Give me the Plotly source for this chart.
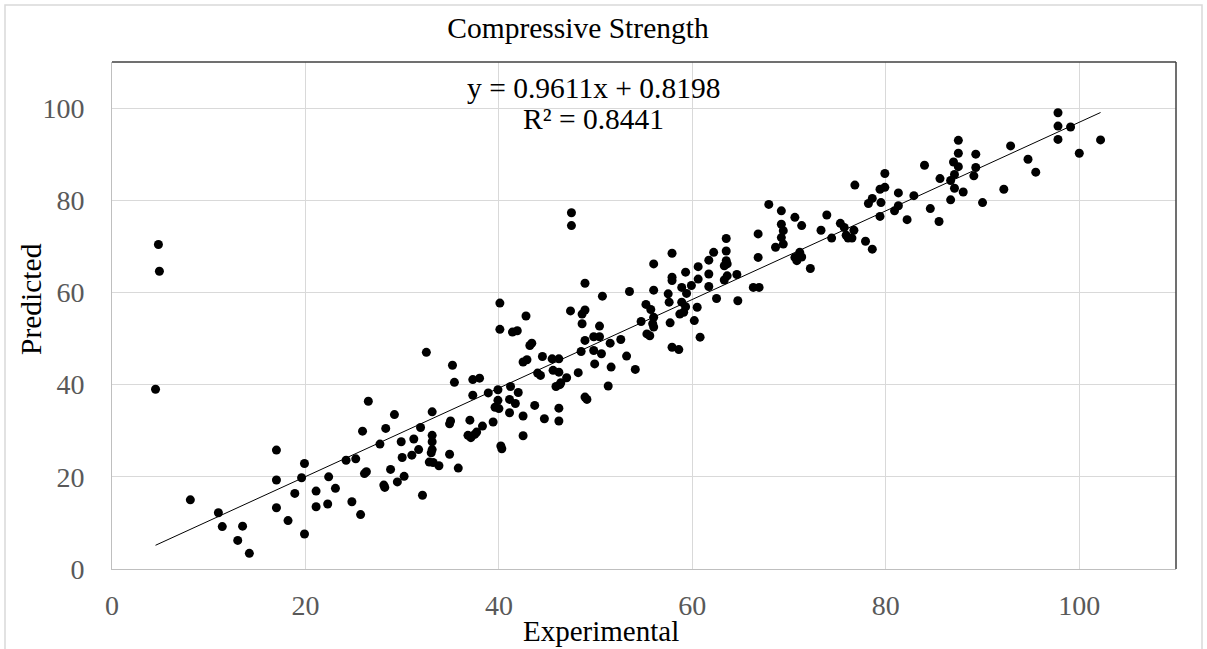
import plotly.graph_objects as go

experimental = [
    4.8, 4.9, 4.5, 8.1, 11.0, 11.4, 13.5, 13.0, 14.2, 17.0, 17.0, 17.0, 18.2, 19.9, 19.6, 18.9, 19.9, 21.1, 21.1, 22.4,
    23.1, 22.3, 24.2, 24.8,
    25.2, 25.7, 25.9, 26.5, 26.1, 26.3, 28.1, 28.2, 27.7, 28.3, 28.8, 29.2, 29.5, 30.2, 29.9, 30.0, 31.0, 31.2, 31.7,
    31.9, 32.1, 32.5, 33.1, 33.1, 33.1, 33.1, 33.0, 32.8, 33.2, 33.8, 34.9, 35.0, 34.9, 35.8, 35.2, 35.4, 37.0, 37.3,
    37.3, 38.0, 36.8, 37.1, 37.5, 37.7, 38.3, 38.9, 39.4, 39.9, 40.1, 40.1, 39.9, 39.6, 40.0, 40.2, 40.3, 41.2, 41.1,
    41.7, 42.0, 41.1, 42.5, 42.5, 41.4, 41.9, 42.8, 43.2, 43.4, 42.5, 42.9, 44.5, 44.0, 44.3, 43.7, 44.7,
    45.5, 46.2, 45.6, 46.2, 45.9, 46.3, 46.4, 47.0, 46.2, 46.2, 48.2, 47.5, 47.5, 47.4, 48.6, 48.9, 48.6, 48.9, 48.9,
    48.5, 49.8, 50.4, 50.4, 49.8, 50.6, 49.9, 48.9, 49.1, 50.7, 51.5, 51.6, 51.3, 52.6, 53.2, 53.5, 54.1, 54.7, 55.2,
    55.7, 56.0, 55.9, 56.0, 55.3, 55.6, 56.0, 56.0, 57.5, 57.6, 57.7, 57.9, 58.6, 57.9, 57.9, 57.9, 58.9, 59.4, 59.3,
    58.9, 59.3, 58.7, 59.1, 59.9, 60.6, 60.6, 60.5, 60.2, 60.8, 61.7, 62.2, 61.7, 61.7, 62.5, 63.5, 63.5, 63.5, 63.3,
    63.6, 63.3, 63.6,
    64.6, 64.7, 66.3, 66.9, 66.8, 66.8, 67.9, 69.2, 69.2, 69.4, 69.2, 69.4, 68.6, 70.6, 71.3, 70.6, 71.1, 70.8, 71.3,
    72.2, 73.3, 73.9, 74.4, 75.3, 75.7, 75.9, 76.1, 76.5, 76.7, 76.8, 77.9, 78.6, 78.2, 78.6, 79.5, 79.4, 79.9, 79.9,
    79.4, 80.9, 81.3, 81.3, 82.2, 82.9, 84.0, 84.6, 85.5, 85.6,
    86.7, 87.1, 87.0, 87.5, 87.5, 87.5, 87.1, 88.0, 86.7, 89.3, 89.3, 89.1, 90.0, 92.2, 92.9, 94.7, 95.5, 97.8, 97.8,
    97.8, 99.1, 100.0, 102.2,
]

predicted = [
    70.4, 64.6, 39.0, 15.0, 12.2, 9.2, 9.3, 6.2, 3.4, 25.8, 19.3, 13.3, 10.5, 22.9, 19.8, 16.4, 7.6, 16.9, 13.5, 20.0,
    17.5, 14.1, 23.6, 14.6,
    23.9, 11.8, 29.9, 36.4, 20.7, 21.1, 18.2, 17.7, 27.1, 30.5, 21.6, 33.5, 18.9, 20.1, 27.6, 24.2, 24.7, 28.2, 25.9,
    30.7, 16.0, 47.0, 34.1, 29.0, 27.6, 25.9, 25.2, 23.2, 23.1, 22.4, 31.5, 32.1, 24.9, 21.9, 44.2, 40.5, 32.3, 37.7,
    41.1, 41.4, 29.0, 28.5, 29.2, 29.7, 31.0, 38.2, 31.9, 38.9, 57.7, 52.0, 36.6, 35.1, 34.8, 26.7, 26.1, 39.6, 36.8,
    35.9, 38.3, 33.9, 33.2, 28.9, 51.4, 51.7, 54.9, 48.5, 49.0, 44.9, 45.4, 46.1, 42.5, 42.0, 35.5, 32.6,
    45.6, 45.6, 43.1, 42.7, 39.6, 40.0, 40.4, 41.5, 34.9, 32.1, 42.6, 77.3, 74.5, 56.0, 55.3, 56.2, 53.2, 62.0, 49.6,
    47.2, 50.4, 50.4, 52.7, 47.4, 46.7, 44.5, 37.3, 36.8, 59.2, 49.0, 43.8, 39.7, 49.8, 46.2, 60.2, 43.3, 53.7, 57.4,
    56.3, 54.6, 53.2, 52.5, 51.0, 50.6, 66.2, 60.5, 59.7, 57.9, 53.4, 48.1, 47.6, 68.5, 63.3, 62.6, 61.1, 59.8, 64.4,
    57.9, 56.9, 55.3, 55.7, 61.5, 65.6, 62.9, 56.8, 53.9, 50.3, 67.0, 68.7, 64.0, 61.3, 58.7, 71.7, 69.0, 66.9, 65.8,
    66.2, 62.7, 63.6,
    63.9, 58.2, 61.1, 61.1, 72.7, 67.6, 79.1, 77.7, 74.8, 73.4, 71.9, 70.5, 69.8, 76.3, 74.5, 67.6, 68.7, 66.9, 67.7,
    65.2, 73.5, 76.8, 71.8, 75.0, 74.1, 72.4, 71.8, 71.8, 73.5, 83.3, 71.1, 69.4, 79.3, 80.4, 79.5, 82.4, 82.8, 85.8,
    76.5, 77.7, 78.8, 81.6, 75.8, 81.0, 87.6, 78.2, 75.4, 84.7,
    84.3, 85.6, 88.3, 87.3, 93.0, 90.2, 82.6, 81.8, 80.1, 90.0, 87.1, 85.3, 79.5, 82.4, 91.8, 88.9, 86.1, 99.0, 96.1,
    93.2, 95.9, 90.2, 93.1,
]

slope = 0.9611
intercept = 0.8198
r_squared = 0.8441

title_text = "Compressive Strength"
x_title = "Experimental"
y_title = "Predicted"
tick_vals = [0, 20, 40, 60, 80, 100]

x_min, x_max = min(experimental), max(experimental)
trend_x = [x_min, x_max]
trend_y = [slope * v + intercept for v in trend_x]

FONT = "Liberation Serif, Times New Roman, serif"
TXT = 29.5

fig = go.Figure()
fig.add_trace(go.Scatter(
    x=experimental, y=predicted, mode="markers",
    marker=dict(color="black", size=9, line=dict(width=0)),
    showlegend=False, hoverinfo="x+y",
))
fig.add_trace(go.Scatter(
    x=trend_x, y=trend_y, mode="lines",
    line=dict(color="black", width=1),
    showlegend=False, hoverinfo="skip",
))

W, H = 1207, 649
L, R, T, B = 112, 31, 62, 80
pw, ph = W - L - R, H - T - B


def px_x(p):
    return (p - L) / pw


def px_y(p):
    return (H - B - p) / ph


fig.update_layout(
    width=W, height=H,
    margin=dict(l=L, r=R, t=T, b=B),
    paper_bgcolor="white", plot_bgcolor="white",
    font=dict(family=FONT, color="#000000", size=28),
    title=dict(text=title_text, xref="container", yref="container",
               x=578 / W, y=1 - 28 / H, xanchor="center", yanchor="middle",
               font=dict(family=FONT, size=TXT, color="#000000")),
    xaxis=dict(range=[0, 110], tickvals=tick_vals, showgrid=True, gridcolor="#d9d9d9", gridwidth=1,
               zeroline=False, showline=True, linecolor="#bfbfbf", linewidth=1, ticks="",
               tickfont=dict(family=FONT, size=28, color="#595959"), ticklabelstandoff=11),
    yaxis=dict(range=[0, 110], tickvals=tick_vals, showgrid=True, gridcolor="#d9d9d9", gridwidth=1,
               zeroline=False, showline=True, linecolor="#bfbfbf", linewidth=1, ticks="",
               tickfont=dict(family=FONT, size=28, color="#595959"), ticklabelstandoff=21),
    shapes=[
        dict(type="line", xref="paper", yref="paper", x0=0, x1=1, y0=1, y1=1,
             line=dict(color="#404040", width=1.5)),
        dict(type="line", xref="paper", yref="paper", x0=1, x1=1, y0=0, y1=1,
             line=dict(color="#404040", width=1.5)),
        dict(type="rect", xref="paper", yref="paper", x0=px_x(5), x1=px_x(1202), y0=px_y(5), y1=px_y(700),
             line=dict(color="#d9d9d9", width=1.5), fillcolor="rgba(0,0,0,0)", layer="below"),
    ],
    annotations=[
        dict(text=f"y = {slope}x + {intercept}", xref="paper", yref="paper", x=px_x(593), y=px_y(88),
             showarrow=False, xanchor="center", yanchor="middle", font=dict(family=FONT, size=TXT, color="#000000")),
        dict(text=f"R² = {r_squared}", xref="paper", yref="paper", x=px_x(593), y=px_y(119),
             showarrow=False, xanchor="center", yanchor="middle", font=dict(family=FONT, size=TXT, color="#000000")),
        dict(text=x_title, xref="paper", yref="paper", x=px_x(601), y=px_y(631),
             showarrow=False, xanchor="center", yanchor="middle", font=dict(family=FONT, size=29, color="#000000")),
        dict(text=y_title, xref="paper", yref="paper", x=px_x(31), y=px_y(299), textangle=-90,
             showarrow=False, xanchor="center", yanchor="middle", font=dict(family=FONT, size=TXT, color="#000000")),
    ],
)

fig.write_html("out.html")
